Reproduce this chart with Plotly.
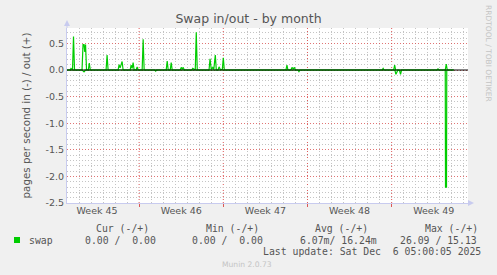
import plotly.graph_objects as go
from datetime import datetime, timedelta

# ---------------- data ----------------
out_time = [
    "2025-11-04 00:00", "2025-11-04 06:00", "2025-11-04 08:00", "2025-11-04 11:00", "2025-11-04 13:00", "2025-11-04 15:00",
    "2025-11-05 06:00", "2025-11-05 08:00", "2025-11-05 10:00", "2025-11-05 11:30", "2025-11-05 13:00", "2025-11-05 15:00",
    "2025-11-05 18:30", "2025-11-05 20:30", "2025-11-05 22:30",
    "2025-11-07 06:00", "2025-11-07 08:00", "2025-11-07 10:00",
    "2025-11-08 06:00", "2025-11-08 08:00", "2025-11-08 10:00", "2025-11-08 14:00", "2025-11-08 16:00",
    "2025-11-09 06:00", "2025-11-09 08:00", "2025-11-09 10:00", "2025-11-09 12:00", "2025-11-09 14:00",
    "2025-11-09 18:00", "2025-11-09 20:00", "2025-11-09 22:00",
    "2025-11-10 06:00", "2025-11-10 08:00", "2025-11-10 10:00",
    "2025-11-12 06:00", "2025-11-12 08:00", "2025-11-12 10:00", "2025-11-12 14:00", "2025-11-12 16:00", "2025-11-12 18:00",
    "2025-11-13 10:00", "2025-11-13 12:00", "2025-11-13 14:00", "2025-11-13 16:00", "2025-11-13 18:00",
    "2025-11-14 09:00", "2025-11-14 11:00", "2025-11-14 14:00", "2025-11-14 16:00", "2025-11-14 18:00", "2025-11-14 20:00",
    "2025-11-15 19:30", "2025-11-15 21:30", "2025-11-16 00:00", "2025-11-16 03:00", "2025-11-16 05:00",
    "2025-11-16 08:00", "2025-11-16 10:00", "2025-11-16 13:30", "2025-11-16 15:30", "2025-11-16 18:00",
    "2025-11-16 22:00", "2025-11-17 00:00", "2025-11-17 02:00",
    "2025-11-22 05:00", "2025-11-22 07:00", "2025-11-22 09:00", "2025-11-22 15:00", "2025-11-22 17:00",
    "2025-11-22 19:30", "2025-11-22 22:00", "2025-11-23 00:00",
    "2025-11-30 05:00", "2025-11-30 07:00", "2025-11-30 09:00",
    "2025-12-01 04:00", "2025-12-01 06:00", "2025-12-01 08:00",
    "2025-12-04 18:30", "2025-12-04 20:30", "2025-12-04 22:30",
    "2025-12-05 11:00", "2025-12-05 13:00", "2025-12-05 15:00", "2025-12-06 04:00",
]
out_val = [
    0, 0, 0.03, 0.0, 0.63, 0,
    0, 0.48, 0.48, 0.34, 0.48, 0,
    0, 0.13, 0,
    0, 0.28, 0,
    0, 0.10, 0.04, 0.16, 0,
    0, 0.09, 0.03, 0.14, 0,
    0, 0.06, 0,
    0, 0.58, 0,
    0, 0.17, 0, 0, 0.14, 0,
    0, 0.05, 0.02, 0.05, 0,
    0, 0.03, 0, 0, 0.71, 0,
    0, 0.21, 0.01, 0.05, 0.01,
    0.28, 0, 0, 0.06, 0.01,
    0.01, 0.23, 0,
    0, 0.09, 0, 0, 0.05,
    0.02, 0.05, 0,
    0, 0.03, 0,
    0, 0.09, 0,
    0, 0.02, 0,
    0, 0.11, 0, 0,
]

in_time = [
    "2025-11-04 00:00", "2025-11-05 07:00", "2025-11-05 09:00", "2025-11-05 11:00", "2025-11-05 12:00",
    "2025-11-11 07:00", "2025-11-11 09:00", "2025-11-11 11:00",
    "2025-11-23 05:00", "2025-11-23 07:00", "2025-11-23 09:00",
    "2025-11-27 14:30", "2025-11-27 16:30", "2025-11-27 18:30",
    "2025-12-01 06:30", "2025-12-01 08:30", "2025-12-01 12:30", "2025-12-01 15:45", "2025-12-01 17:45", "2025-12-01 19:45",
    "2025-12-05 11:00", "2025-12-05 11:30", "2025-12-05 13:30", "2025-12-05 14:00", "2025-12-06 04:00",
]
in_val = [
    0, 0, 0.03, 0.03, 0,
    0, 0.02, 0,
    0, 0.03, 0,
    0, 0.01, 0,
    0, 0.08, 0, 0.01, 0.08, 0,
    0, 2.2, 2.2, 0, 0,
]

x_range = ["2025-11-04 00:00", "2025-12-07 08:24"]
week_starts = ["2025-11-10", "2025-11-17", "2025-11-24", "2025-12-01"]
week_label_pos = ["2025-11-06 12:00", "2025-11-13 12:00", "2025-11-20 12:00", "2025-11-27 12:00", "2025-12-04 12:00"]
week_labels = ["Week 45", "Week 46", "Week 47", "Week 48", "Week 49"]
y_ticks = [0.5, 0.0, -0.5, -1.0, -1.5, -2.0, -2.5]
y_ticktext = ["0.5", "0.0", "-0.5", "-1.0", "-1.5", "-2.0", "-2.5"]
y_range = [-2.5, 0.79]

legend_headers = ["Cur (-/+)", "Min (-/+)", "Avg (-/+)", "Max (-/+)"]
legend_values = ["0.00 /  0.00", "0.00 /  0.00", "6.07m/ 16.24m", "26.09 / 15.13"]
series_name = "swap"
last_update = "Last update: Sat Dec  6 05:00:05 2025"

# ---------------- style ----------------
GREEN = "#00cc00"
W, H = 497, 275
L, R, T, B = 67, 29, 28, 72
PW, PH = W - L - R, H - T - B
MINOR = "#c4c4c4"
MAJOR = "rgba(215,70,70,0.75)"
VMAJOR = "rgba(215,60,60,0.85)"
DOTS = "1px,2px"
AXIS = "#c8cbef"
TXT = "#555555"

# minor grid positions (daily / every 0.1), skipping major positions
day0 = datetime(2025, 11, 4)
major_days = set(week_starts)
minor_x = []
for i in range(34):
    d = (day0 + timedelta(days=i)).strftime("%Y-%m-%d")
    if d not in major_days:
        minor_x.append(d)
minor_y = [round(-2.5 + 0.1 * k, 1) for k in range(33)]
minor_y = [v for v in minor_y if abs(v * 2 - round(v * 2)) > 1e-6]


def px(x):
    return (x - L) / PW


def py(y):
    return (H - B - y) / PH


fig = go.Figure()
fig.add_trace(go.Scatter(x=out_time, y=out_val, mode="lines",
                         line=dict(color=GREEN, width=1.2), hoverinfo="skip", showlegend=False))
fig.add_trace(go.Scatter(x=in_time, y=[-v for v in in_val], mode="lines",
                         line=dict(color=GREEN, width=1.2), hoverinfo="skip", showlegend=False))
# dummy trace for label axis
fig.add_trace(go.Scatter(x=x_range, y=[None, None], xaxis="x2", mode="lines",
                         hoverinfo="skip", showlegend=False))

fig.update_layout(
    width=W, height=H,
    margin=dict(l=L, r=R, t=T, b=B),
    paper_bgcolor="#f0f0f0", plot_bgcolor="#ffffff",
    font=dict(family="DejaVu Sans", color=TXT),
    xaxis=dict(type="date", range=x_range, tickvals=week_starts, ticktext=[""] * len(week_starts),
               showgrid=False,
               ticks="outside", ticklen=3, tickcolor=VMAJOR, tickwidth=1,
               minor=dict(tickmode="array", tickvals=minor_x, showgrid=True, gridcolor=MINOR,
                          griddash=DOTS, gridwidth=1),
               showline=True, linecolor=AXIS, linewidth=1, zeroline=False, fixedrange=True),
    xaxis2=dict(type="date", range=x_range, overlaying="x", anchor="y", side="bottom",
                tickvals=week_label_pos, ticktext=week_labels, showgrid=False, ticks="",
                tickfont=dict(size=9.5, color=TXT), zeroline=False, showline=False),
    yaxis=dict(range=y_range, tickvals=y_ticks, ticktext=y_ticktext,
               showgrid=True, gridcolor=MAJOR, griddash=DOTS, gridwidth=1,
               minor=dict(tickmode="array", tickvals=minor_y, showgrid=True, gridcolor=MINOR,
                          griddash=DOTS, gridwidth=1),
               tickfont=dict(size=9.5, color=TXT), zeroline=False,
               showline=True, linecolor=AXIS, linewidth=1,
               title=dict(text="pages per second in (-) / out (+)", font=dict(size=10.3, color=TXT), standoff=12)),
    title=dict(text="Swap in/out - by month", x=0.5, xanchor="center", y=1 - 19 / H, yanchor="middle",
               font=dict(size=12.5, color=TXT)),
)

# major vertical grid lines at week boundaries
for ws in week_starts:
    fig.add_shape(type="line", xref="x", yref="paper", x0=ws, x1=ws, y0=0, y1=1,
                  line=dict(color=VMAJOR, width=1, dash=DOTS), layer="between")
# zero rule on top of data
fig.add_shape(type="line", xref="paper", yref="y", x0=0, x1=1, y0=0, y1=0,
              line=dict(color="#000000", width=1), layer="above")
# axis arrows
fig.add_shape(type="line", xref="paper", yref="paper", x0=0, x1=0, y0=1, y1=py(22),
              line=dict(color=AXIS, width=1))
fig.add_shape(type="path", xref="paper", yref="paper",
              path=f"M {px(64)} {py(26)} L {px(70)} {py(26)} L {px(67)} {py(20)} Z",
              fillcolor=AXIS, line=dict(width=0))
fig.add_shape(type="path", xref="paper", yref="paper",
              path=f"M {px(468)} {py(200)} L {px(468)} {py(206)} L {px(474)} {py(203)} Z",
              fillcolor=AXIS, line=dict(width=0))

MONO = "DejaVu Sans Mono"
NB = "\u00a0"


def mono(s):
    return s.replace(" ", NB)


ann = []
for xh, t in zip([94, 204, 313, 423], legend_headers):
    ann.append(dict(x=px(xh), y=py(228), text=mono(t), xanchor="left", yanchor="middle",
                    font=dict(family=MONO, size=9.8, color=TXT)))
for xv, t in zip([83, 190, 298, 398], legend_values):
    ann.append(dict(x=px(xv), y=py(240), text=mono(t), xanchor="left", yanchor="middle",
                    font=dict(family=MONO, size=9.8, color=TXT)))
ann.append(dict(x=px(27), y=py(240), text=series_name, xanchor="left", yanchor="middle",
                font=dict(family=MONO, size=9.8, color=TXT)))
ann.append(dict(x=px(483), y=py(251.5), text=mono(last_update), xanchor="right", yanchor="middle",
                font=dict(family=MONO, size=9.8, color=TXT)))
ann.append(dict(x=px(274), y=py(264), text="Munin 2.0.73", xanchor="right", yanchor="middle",
                font=dict(family="DejaVu Sans", size=7.6, color="#c4c4c4")))
ann.append(dict(x=px(489), y=py(53), text="RRDTOOL / TOBI OETIKER", textangle=90,
                xanchor="center", yanchor="middle",
                font=dict(family="DejaVu Sans", size=7.5, color="#c4c4c4")))
for a in ann:
    a.update(xref="paper", yref="paper", showarrow=False)
fig.update_layout(annotations=ann)

fig.add_shape(type="rect", xref="paper", yref="paper", x0=px(14), x1=px(20), y0=py(243), y1=py(237),
              fillcolor=GREEN, line=dict(width=0))

fig.write_html("out.html")
